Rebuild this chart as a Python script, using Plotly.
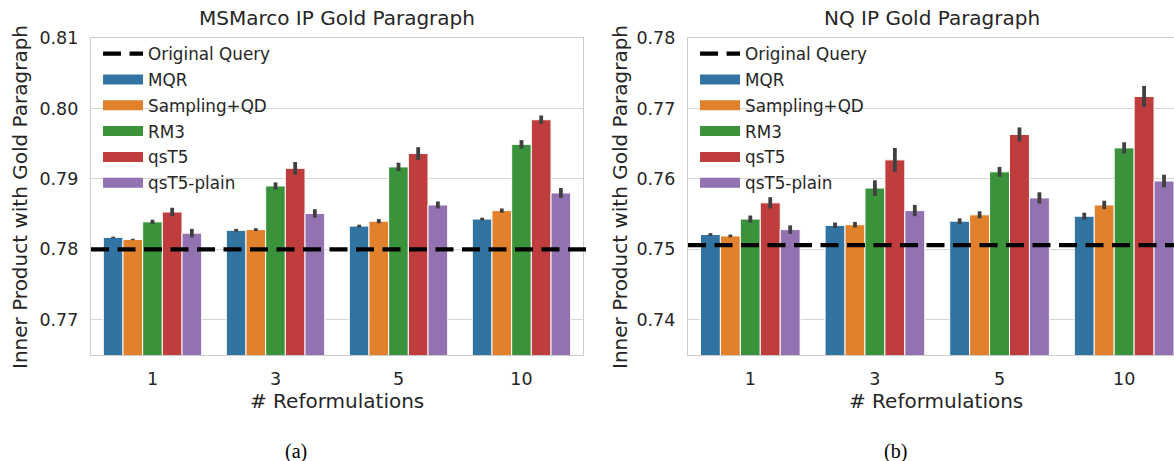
import plotly.graph_objects as go

categories = ["1", "3", "5", "10"]
methods = ["MQR", "Sampling+QD", "RM3", "qsT5", "qsT5-plain"]
colors = ["#3274a1", "#e1812c", "#3a923a", "#c03d3e", "#9372b2"]

# MSMarco (left)
ms_baseline = 0.7800
ms_values = {
    "MQR":         [0.7817, 0.7827, 0.7833, 0.7843],
    "Sampling+QD": [0.7814, 0.7828, 0.7840, 0.7855],
    "RM3":         [0.7839, 0.7890, 0.7917, 0.7949],
    "qsT5":        [0.7853, 0.7915, 0.7936, 0.7984],
    "qsT5-plain":  [0.7823, 0.7851, 0.7863, 0.7880],
}
ms_err = {
    "MQR":         [0.0001, 0.0002, 0.0002, 0.0002],
    "Sampling+QD": [0.0001, 0.0002, 0.0003, 0.0003],
    "RM3":         [0.0003, 0.0005, 0.0006, 0.0006],
    "qsT5":        [0.0006, 0.0009, 0.0009, 0.0006],
    "qsT5-plain":  [0.0006, 0.0006, 0.0005, 0.0007],
}

# NQ (right)
nq_baseline = 0.7506
nq_values = {
    "MQR":         [0.7521, 0.7534, 0.7540, 0.7547],
    "Sampling+QD": [0.7519, 0.7535, 0.7549, 0.7563],
    "RM3":         [0.7543, 0.7587, 0.7610, 0.7644],
    "qsT5":        [0.7566, 0.7627, 0.7663, 0.7717],
    "qsT5-plain":  [0.7528, 0.7555, 0.7573, 0.7597],
}
nq_err = {
    "MQR":         [0.0002, 0.0004, 0.0004, 0.0005],
    "Sampling+QD": [0.0002, 0.0004, 0.0005, 0.0006],
    "RM3":         [0.0005, 0.0011, 0.0007, 0.0008],
    "qsT5":        [0.0008, 0.0017, 0.0010, 0.0015],
    "qsT5-plain":  [0.0006, 0.0008, 0.0008, 0.0009],
}

TXT = "#262626"
GRID = "#d5d5d5"
FONT = "DejaVu Sans"
DASH = "18px,8.5px"

fig = go.Figure()

panels = [
    ("x", "y", "legend", ms_values, ms_err, ms_baseline),
    ("x2", "y2", "legend2", nq_values, nq_err, nq_baseline),
]

for xa, ya, lg, vals, errs, base in panels:
    # legend entry for the baseline
    fig.add_trace(go.Scatter(
        x=[None], y=[None], mode="lines", name="Original Query",
        line=dict(color="black", width=4.4, dash=DASH),
        xaxis=xa, yaxis=ya, legend=lg, showlegend=True,
        legendgroup=lg + "base", hoverinfo="skip",
    ))
    for m, c in zip(methods, colors):
        fig.add_trace(go.Bar(
            x=categories, y=vals[m], name=m, xaxis=xa, yaxis=ya,
            showlegend=False, legendgroup=lg + m,
            marker=dict(color=c, line=dict(color="white", width=1)),
            error_y=dict(type="data", array=errs[m], color="#404040",
                         thickness=3.8, width=0),
        ))
        # wide rectangular legend swatch
        fig.add_trace(go.Scatter(
            x=[None], y=[None], mode="lines", name=m,
            line=dict(color=c, width=11), xaxis=xa, yaxis=ya,
            legend=lg, legendgroup=lg + m, showlegend=True, hoverinfo="skip",
        ))
    fig.add_shape(type="line", xref=xa + " domain", yref=ya,
                  x0=0, x1=1.01 if xa == "x" else 1, y0=base, y1=base,
                  line=dict(color="black", width=4.4, dash=DASH), layer="above")

W, H = 1174, 461
lx0, lx1 = 91 / W, 583 / W
rx0, rx1 = 688 / W, 1.0
y0, y1 = 1 - 355 / H, 1 - 38 / H

axis_common = dict(showgrid=False, showline=True, linecolor="#cccccc",
                   linewidth=1.3, ticks="", zeroline=False, automargin=False,
                   tickfont=dict(family=FONT, size=17.5, color=TXT))
yaxis_common = dict(showgrid=True, gridcolor=GRID, gridwidth=1.3,
                    showline=True, linecolor="#cccccc", linewidth=1.3,
                    ticks="", zeroline=False, ticklabelstandoff=8, automargin=False,
                    tickfont=dict(family=FONT, size=17.5, color=TXT))

legend_common = dict(xanchor="left", yanchor="top",
                     bgcolor="rgba(255,255,255,0)", borderwidth=0,
                     font=dict(family=FONT, size=16.8, color=TXT),
                     tracegroupgap=1, itemwidth=40)

fig.update_layout(
    width=W, height=H,
    margin=dict(l=0, r=0, t=0, b=0, pad=0, autoexpand=False),
    paper_bgcolor="white", plot_bgcolor="white",
    barmode="group", bargap=0.2, bargroupgap=0,
    font=dict(family=FONT, color=TXT),
    xaxis=dict(domain=[lx0, lx1], anchor="y", type="category",
               range=[-0.5, 3.5], mirror=True, ticklabelstandoff=8,
               **axis_common),
    yaxis=dict(domain=[y0, y1], anchor="x", range=[0.765, 0.81],
               tickvals=[0.77, 0.78, 0.79, 0.80, 0.81],
               ticktext=["0.77", "0.78", "0.79", "0.80", "0.81"],
               mirror=True, **yaxis_common),
    xaxis2=dict(domain=[rx0, rx1], anchor="y2", type="category",
                range=[-0.5, 3.4], mirror=True, ticklabelstandoff=8,
                **axis_common),
    yaxis2=dict(domain=[y0, y1], anchor="x2", range=[0.735, 0.78],
                tickvals=[0.74, 0.75, 0.76, 0.77, 0.78],
                ticktext=["0.74", "0.75", "0.76", "0.77", "0.78"],
                mirror=False, **yaxis_common),
    legend=dict(x=lx0 + 0.006, y=y1 + 0.004, **legend_common),
    legend2=dict(x=rx0 + 0.006, y=y1 + 0.004, **legend_common),
)

ann = []
ann.append(dict(text="MSMarco IP Gold Paragraph", x=(lx0 + lx1) / 2, y=1 - 18 / H,
                font=dict(size=20)))
ann.append(dict(text="NQ IP Gold Paragraph", x=(rx0 + 1172 / W) / 2 + 0.002, y=1 - 18 / H,
                font=dict(size=20)))
ann.append(dict(text="# Reformulations", x=(lx0 + lx1) / 2, y=1 - 401 / H,
                font=dict(size=20)))
ann.append(dict(text="# Reformulations", x=(rx0 + 1184 / W) / 2, y=1 - 401 / H,
                font=dict(size=20)))
ann.append(dict(text="Inner Product with Gold Paragraph", x=20 / W, y=1 - 197 / H,
                textangle=-90, font=dict(size=20)))
ann.append(dict(text="Inner Product with Gold Paragraph", x=620 / W, y=1 - 197 / H,
                textangle=-90, font=dict(size=20)))
ann.append(dict(text="(a)", x=296 / W, y=1 - 451 / H,
                font=dict(size=20, family="Liberation Serif", color="black")))
ann.append(dict(text="(b)", x=895 / W, y=1 - 451 / H,
                font=dict(size=20, family="Liberation Serif", color="black")))

for a in ann:
    a.update(xref="paper", yref="paper", showarrow=False,
             xanchor="center", yanchor="middle")
    f = a["font"]
    f.setdefault("family", FONT)
    f.setdefault("color", TXT)
    fig.add_annotation(**a)

fig.write_html(
    "out.html",
    config={"displayModeBar": False},
    post_script="document.body.style.margin='0';document.body.style.padding='0';"
                "document.body.style.overflow='hidden';",
)
